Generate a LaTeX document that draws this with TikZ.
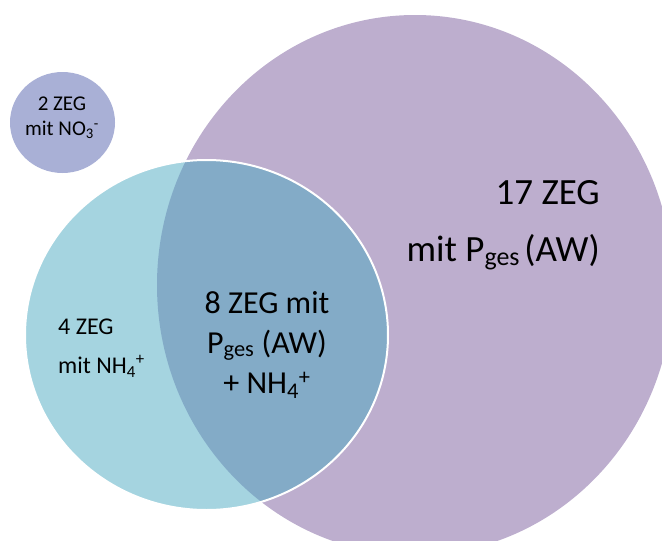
\documentclass[tikz,border=0pt]{standalone}
\usepackage{fontspec}
\setmainfont{Carlito}
\usetikzlibrary{shapes.geometric}
\definecolor{zegpurple}{HTML}{BDAECE}
\definecolor{zegaqua}{HTML}{4BA9C1}
\definecolor{zegblue}{HTML}{A9B0D6}

\begin{document}
\begin{tikzpicture}[x=1pt, y=-1pt,
  venn/.style={ellipse, inner sep=0pt, outer sep=0pt},
  lbl/.style={inner sep=0pt, text=black}]
  \useasboundingbox (0,0) rectangle (662,541);
  \clip (0,0) rectangle (662,541);

  % Sets
  \node[venn, fill=zegpurple, minimum width=516pt, minimum height=540pt] (pges) at (415,285) {};
  \node[venn, fill=zegblue, minimum width=105pt, minimum height=101pt] (no3) at (62.5,122.5) {};
  \node[venn, fill=zegaqua, fill opacity=0.5, draw=white, line width=2pt,
        minimum width=363pt, minimum height=350pt] (nh4) at (206.5,335) {};

  % Labels
  \node[lbl, anchor=east, align=right, font=\fontsize{37}{57}\selectfont] (pgestxt) at (600,225)
    {17 ZEG\\mit P\textsubscript{ges}\hspace{0.12em}(AW)};
  \node[lbl, align=center, font=\fontsize{32}{40}\selectfont] (bothtxt) at (267,345)
    {8 ZEG mit\\P\textsubscript{ges} (AW)\\+ NH\textsubscript{4}\textsuperscript{+}};
  \node[lbl, anchor=west, align=left, font=\fontsize{24}{39}\selectfont] (nh4txt) at (58,348)
    {4 ZEG\\mit NH\textsubscript{4}\textsuperscript{+}};
  \node[lbl, align=center, font=\fontsize{21}{25}\selectfont] (no3txt) at (62,118)
    {2 ZEG\\mit NO\textsubscript{3}\textsuperscript{-}};
\end{tikzpicture}
\end{document}
